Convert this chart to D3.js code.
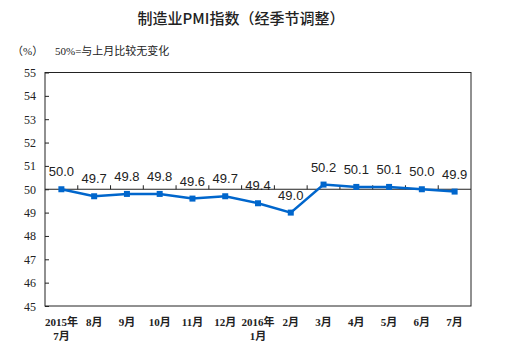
<!DOCTYPE html>
<html>
<head>
<meta charset="utf-8">
<script src="https://cdn.jsdelivr.net/npm/d3@7"></script>
<style>
  html, body { margin: 0; padding: 0; background: #fff; }
  svg { display: block; }
</style>
</head>
<body>
<svg id="chart" width="517" height="343"></svg>
<script>
// Monthly manufacturing PMI, seasonally adjusted
const months = ["2015年\n7月", "8月", "9月", "10月", "11月", "12月", "2016年\n1月", "2月", "3月", "4月", "5月", "6月", "7月"];
const pmiValues = [50.0, 49.7, 49.8, 49.8, 49.6, 49.7, 49.4, 49.0, 50.2, 50.1, 50.1, 50.0, 49.9];
const yTicks = [45, 46, 47, 48, 49, 50, 51, 52, 53, 54, 55];

const svg = d3.select("#chart");
const margin = { left: 45, right: 46, top: 72.5, bottom: 37 };
const W = 517, H = 343;
const plotW = W - margin.left - margin.right;
const plotH = H - margin.top - margin.bottom;

const serif = "'Liberation Serif', 'Times New Roman', serif";
const cjk = "'Liberation Serif', 'Noto Sans CJK SC', serif";
const sans = "'Liberation Sans', Arial, sans-serif";

const x = d3.scaleBand().domain(months).range([margin.left, margin.left + plotW]).padding(0);
const y = d3.scaleLinear().domain([45, 55]).range([margin.top + plotH, margin.top]);

// Title
svg.append("text")
  .attr("x", 241).attr("y", 24)
  .attr("text-anchor", "middle")
  .attr("font-family", "'Noto Sans CJK SC', sans-serif")
  .attr("font-size", 15)
  .attr("font-weight", 500)
  .attr("fill", "#222")
  .text("制造业PMI指数（经季节调整）");

// Unit and note
svg.append("text")
  .attr("x", 12).attr("y", 55)
  .attr("font-family", cjk).attr("font-size", 11).attr("fill", "#222")
  .text("（%）");
svg.append("text")
  .attr("x", 55).attr("y", 55)
  .attr("font-family", cjk).attr("font-size", 11).attr("fill", "#222")
  .text("50%=与上月比较无变化");

// Plot frame
svg.append("rect")
  .attr("x", margin.left).attr("y", margin.top)
  .attr("width", plotW).attr("height", plotH)
  .attr("fill", "none").attr("stroke", "#222").attr("stroke-width", 1);

// Y axis with inward ticks
const yAxis = d3.axisRight(y).tickValues(yTicks).tickSize(4).tickFormat("");
const yg = svg.append("g").attr("transform", `translate(${margin.left},0)`).call(yAxis);
yg.select(".domain").remove();
yg.selectAll(".tick line").attr("stroke", "#222");

svg.append("g").selectAll("text.ylab")
  .data(yTicks).join("text")
  .attr("x", 36).attr("y", d => y(d) + 4.5)
  .attr("text-anchor", "end")
  .attr("font-family", serif).attr("font-size", 12).attr("fill", "#222")
  .text(d => d);

// Category axis crossing at 50, ticks at band boundaries pointing up
const y50 = y(50);
svg.append("line")
  .attr("x1", margin.left).attr("x2", margin.left + plotW)
  .attr("y1", y50).attr("y2", y50)
  .attr("stroke", "#222").attr("stroke-width", 1);
svg.append("g").selectAll("line.xt")
  .data(months.slice(1)).join("line")
  .attr("x1", d => x(d)).attr("x2", d => x(d))
  .attr("y1", y50).attr("y2", y50 - 4)
  .attr("stroke", "#222");

// Category labels below plot
const xl = svg.append("g").selectAll("text.xlab")
  .data(months).join("text")
  .attr("text-anchor", "middle")
  .attr("font-family", cjk).attr("font-size", 11).attr("font-weight", "bold").attr("fill", "#222");
xl.each(function(d) {
  const parts = d.split("\n");
  const t = d3.select(this);
  parts.forEach((p, i) => {
    t.append("tspan")
      .attr("x", x(d) + x.bandwidth() / 2)
      .attr("y", 326 + i * 14)
      .text(p);
  });
});

// Line
const cx = (d, i) => x(months[i]) + x.bandwidth() / 2;
const line = d3.line().x((d, i) => cx(d, i)).y(d => y(d));
svg.append("path")
  .datum(pmiValues)
  .attr("d", line)
  .attr("fill", "none")
  .attr("stroke", "#0066CC")
  .attr("stroke-width", 2.5);

// Square markers
svg.append("g").selectAll("rect.m")
  .data(pmiValues).join("rect")
  .attr("x", (d, i) => cx(d, i) - 3)
  .attr("y", d => y(d) - 3)
  .attr("width", 6).attr("height", 6)
  .attr("fill", "#0066CC");

// Value labels
svg.append("g").selectAll("text.v")
  .data(pmiValues).join("text")
  .attr("x", (d, i) => cx(d, i))
  .attr("y", d => y(d) - 13)
  .attr("text-anchor", "middle")
  .attr("font-family", sans).attr("font-size", 13).attr("fill", "#222")
  .text(d => d.toFixed(1));
</script>
</body>
</html>
